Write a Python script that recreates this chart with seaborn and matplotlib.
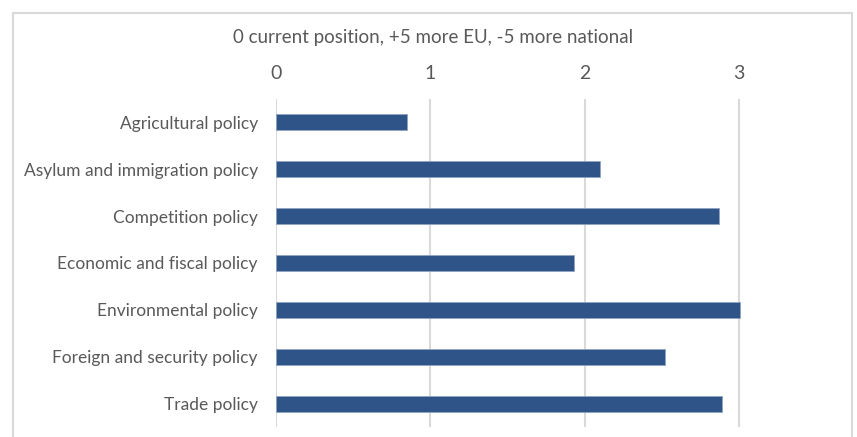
import pandas as pd
import seaborn as sns
import matplotlib.pyplot as plt
from matplotlib.patches import Rectangle

# values
policies = ['Agricultural policy', 'Asylum and immigration policy', 'Competition policy',
            'Economic and fiscal policy', 'Environmental policy',
            'Foreign and security policy', 'Trade policy']
scores = [0.85, 2.10, 2.87, 1.93, 3.01, 2.52, 2.89]
x_ticks = [0, 1, 2, 3]
title = '0 current position, +5 more EU, -5 more national'

df = pd.DataFrame({'policy': policies, 'score': scores})

sns.set_style('white')
plt.rcParams['font.family'] = ['Lato', 'DejaVu Sans']
text_col = '#595959'

fig = plt.figure(figsize=(8.57, 4.37), dpi=100)
ax = fig.add_axes([276 / 857, 1 - 427 / 437, 540 / 857, 328 / 437])

sns.barplot(data=df, x='score', y='policy', orient='h', color='#2F5488',
            width=0.34, saturation=1, edgecolor='#8FA3C2', linewidth=0.6, ax=ax, zorder=3)

ax.set_xlim(0, 3.5)
ax.set_xticks(x_ticks)
ax.xaxis.tick_top()
ax.tick_params(axis='x', length=0, pad=12, labelsize=14, labelcolor=text_col)
ax.tick_params(axis='y', length=0, pad=13, labelsize=12.5, labelcolor=text_col)
ax.grid(axis='x', color='#D9D9D9', linewidth=1.5, zorder=0)
ax.set_axisbelow(True)
for s in ax.spines.values():
    s.set_visible(False)
ax.set_xlabel('')
ax.set_ylabel('')

fig.text(433 / 857, 1 - 37 / 437, title, ha='center', va='center', fontsize=13.5, color=text_col)

# light frame round the chart
fig.patches.append(Rectangle((13 / 857, -0.02), (852 - 13) / 857, (437 - 13) / 437 + 0.02,
                             transform=fig.transFigure, fill=False, ec='#D9D9D9', lw=1.5))

fig.savefig('out.png', dpi=100)
